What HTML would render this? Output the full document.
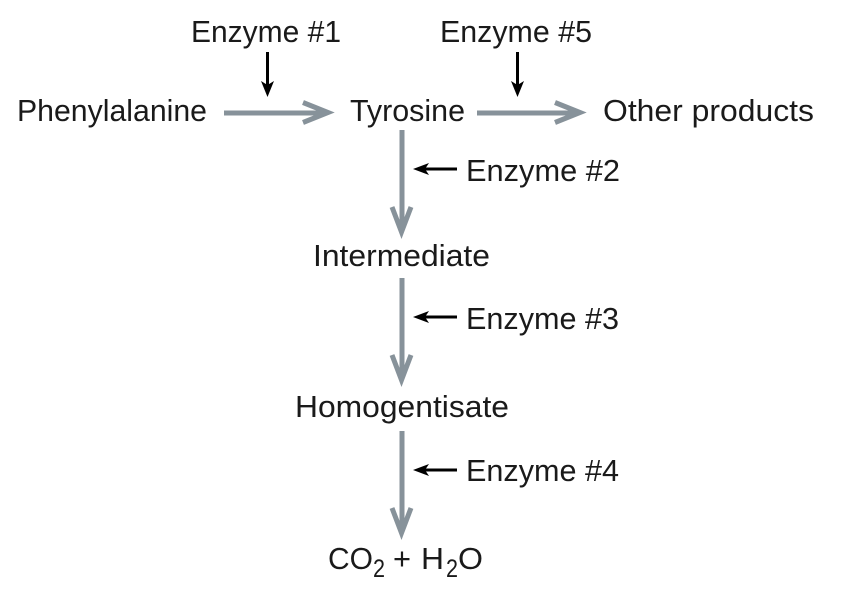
<!DOCTYPE html>
<html>
<head>
<meta charset="utf-8">
<style>
html,body{margin:0;padding:0;background:#fff;}
svg{display:block;}
text{font-family:"Liberation Sans",sans-serif;font-size:31px;fill:#1a1a1a;}
.g{stroke:#87929a;stroke-width:5;fill:none;}
.k{stroke:#000;stroke-width:3;fill:none;}
</style>
</head>
<body>
<svg width="845" height="590" viewBox="0 0 845 590" xmlns="http://www.w3.org/2000/svg">
<!-- gray arrows -->
<path class="g" d="M224 113H326M303 102.500L328 112.500L303 122.500"/>
<path class="g" d="M477 113H578M555 102.500L580 112.500L555 122.500"/>
<path class="g" d="M402 130V230M392 207L401.500 232L411 207"/>
<path class="g" d="M402 278V378M392 355L401.500 380L411 355"/>
<path class="g" d="M402 431V531M392 508L401.500 533L411 508"/>
<!-- black arrows -->
<path class="k" d="M267.500 52V85"/>
<path d="M261 81L267.500 85L274 81L267.500 97Z"/>
<path class="k" d="M517.500 52V85"/>
<path d="M511 81L517.500 85L524 81L517.500 97Z"/>
<path class="k" d="M425 169H457"/>
<path d="M429 163L425 169L429 175L413 169Z"/>
<path class="k" d="M425 317H457"/>
<path d="M429 311L425 317L429 323L413 317Z"/>
<path class="k" d="M425 470H457"/>
<path d="M429 464L425 470L429 476L413 470Z"/>
<!-- labels -->
<text x="191" y="42" textLength="150" lengthAdjust="spacingAndGlyphs">Enzyme #1</text>
<text x="440" y="42" textLength="152" lengthAdjust="spacingAndGlyphs">Enzyme #5</text>
<text x="17" y="121" textLength="190" lengthAdjust="spacingAndGlyphs">Phenylalanine</text>
<text x="350" y="121" textLength="115" lengthAdjust="spacingAndGlyphs">Tyrosine</text>
<text x="603" y="121" textLength="211" lengthAdjust="spacingAndGlyphs">Other products</text>
<text x="466" y="181" textLength="154" lengthAdjust="spacingAndGlyphs">Enzyme #2</text>
<text x="313" y="266" textLength="177" lengthAdjust="spacingAndGlyphs">Intermediate</text>
<text x="466" y="329" textLength="153" lengthAdjust="spacingAndGlyphs">Enzyme #3</text>
<text x="295" y="417" textLength="214" lengthAdjust="spacingAndGlyphs">Homogentisate</text>
<text x="466" y="481" textLength="153" lengthAdjust="spacingAndGlyphs">Enzyme #4</text>
<text x="328" y="569" textLength="45" lengthAdjust="spacingAndGlyphs">CO</text>
<text x="373" y="577" style="font-size:25px" textLength="12" lengthAdjust="spacingAndGlyphs">2</text>
<text x="393" y="569" textLength="18" lengthAdjust="spacingAndGlyphs">+</text>
<text x="421" y="569" textLength="23" lengthAdjust="spacingAndGlyphs">H</text>
<text x="446" y="577" style="font-size:25px" textLength="12" lengthAdjust="spacingAndGlyphs">2</text>
<text x="458" y="569" textLength="25" lengthAdjust="spacingAndGlyphs">O</text>
</svg>
</body>
</html>
